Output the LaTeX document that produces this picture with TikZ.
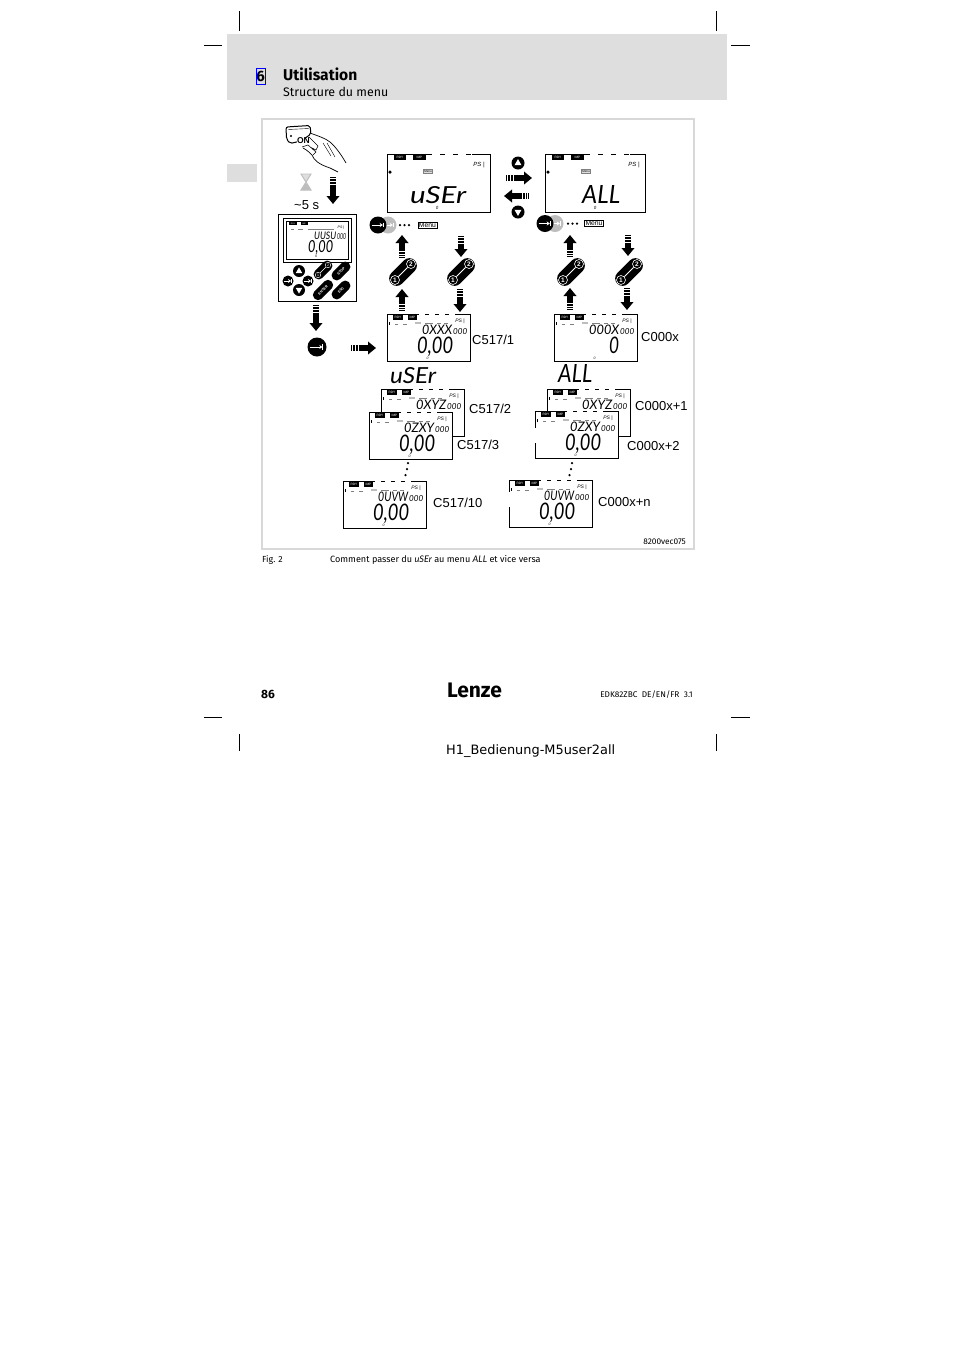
\documentclass[tikz,border=0pt]{standalone}
\usepackage{fontspec}
\usepackage{graphicx}
\usetikzlibrary{arrows.meta}
\setmainfont{Fira Sans}
\newfontfamily\labelfont{Liberation Sans}
\newfontfamily\lcdfont{Lato}
\newfontfamily\printfont{DejaVu Sans}
\definecolor{pagegrey}{HTML}{DEDEDE}
\definecolor{framegrey}{HTML}{D8D8D8}
\definecolor{keygrey}{HTML}{BDBDBD}
\newcommand{\segtext}[3]{\resizebox{#1pt}{#2pt}{\lcdfont\itshape #3}}
\tikzset{
  plain/.style={inner sep=0pt},
  lcdframe/.style={draw,fill=white,line width=0.9pt,inner sep=0pt,anchor=north west},
  lcdtag/.style={fill=black,text=white,inner sep=0pt,minimum height=5pt,font=\labelfont\fontsize{3.2}{3.2}\selectfont},
  menutag/.style={draw,fill=white,line width=0.5pt,inner sep=0.8pt,font=\labelfont\fontsize{#1}{#1}\selectfont},
  tinytext/.style={inner sep=0pt,font=\labelfont\itshape\fontsize{#1}{#1}\selectfont},
  seg/.style={inner sep=0pt,anchor=base west},
  codelabel/.style={inner sep=0pt,anchor=west,font=\labelfont\fontsize{13}{13}\selectfont},
  blockarrow/.style={line width=5.5pt,dash pattern=on 1pt off 1pt on 1.5pt off 1pt on 2pt off 1pt on 60pt,
    -{Triangle[length=8pt,width=12.5pt]}},
  keycap/.style={fill=black,rounded corners=#1,inner sep=0pt},
  keynum/.style={circle,fill=black,draw=white,line width=0.6pt,text=white,inner sep=0pt,minimum size=9pt,
    font=\labelfont\bfseries\fontsize{6.5}{6.5}\selectfont},
  padcap/.style={keycap=4.5pt,rotate=45,minimum width=22pt,minimum height=10pt,text=white,
    font=\labelfont\bfseries\fontsize{3.5}{3.5}\selectfont},
  stopdot/.style={circle,fill=black,inner sep=0pt,minimum size=2.5pt}
}
% small display, args: name, x, y, upper text, main text (empty when covered), main x, main width
\newcommand{\lcdpanel}[7]{
  \node[lcdframe,minimum width=83pt,minimum height=47pt] (#1) at (#2,#3) {};
  \draw[white,line width=1pt,dash pattern=on 6pt off 4pt] (#2+32,#3) -- (#2+70,#3);
  \begin{scope}[shift={(#2,#3)}]
    \node[lcdtag,minimum width=10pt] (#1rdy) at (11,3) {RDY};
    \node[lcdtag,minimum width=9pt] (#1imp) at (25.5,3) {IMP};
    \node[tinytext=5] (#1ps) at (73,7) {PS |};
    \node[fill=black,inner sep=0pt,minimum width=1.5pt,minimum height=3pt] (#1mark) at (2.5,9) {};
    \node[fill=keygrey,inner sep=0pt,minimum width=6pt,minimum height=2.5pt] (#1icon) at (31,9) {};
    \draw[gray,line width=0.4pt] (8,10) -- (11,10) (16,10) -- (20,10) (38,9) -- (46,9) (50,9) -- (54,9) (57,9) -- (61,9);
    \node[seg] (#1upper) at (35,20.5) {\segtext{30}{9.5}{#4}};
    \node[seg] (#1sub) at (66,20.5) {\segtext{14}{6}{000}};
    \if\relax\detokenize{#5}\relax\else
      \node[seg] (#1main) at (#6,39) {\segtext{#7}{16.5}{#5}};
      \node[tinytext=3.5] (#1zero) at (40.5,44.5) {0};
    \fi
  \end{scope}
}
% large display, args: name, x, y, width, main text, main x, main width, main height
\newcommand{\lcdlarge}[8]{
  \node[lcdframe,minimum width=#4pt,minimum height=58pt] (#1) at (#2,#3) {};
  \begin{scope}[shift={(#2,#3)}]
    \draw[white,line width=1pt,dash pattern=on 8pt off 5pt] (45,0) -- (85,0);
    \node[lcdtag,minimum width=12pt] (#1rdy) at (13,3.5) {RDY};
    \node[lcdtag,minimum width=13pt] (#1imp) at (32.5,3.5) {IMP};
    \node[tinytext=6] (#1ps) at (#4-11,10.5) {PS |};
    \node[circle,fill=black,inner sep=0pt,minimum size=3.5pt] (#1mark) at (3,18) {};
    \node[menutag=3,draw=gray,fill=pagegrey] (#1menu) at (41,17.5) {Menu};
    \node[seg] (#1main) at (#6,49) {\segtext{#7}{#8}{#5}};
    \node[tinytext=4.5] (#1zero) at (50,54) {0};
  \end{scope}
}
% oblique key with 1 and 2
\newcommand{\keypair}[3]{
  \node[keycap=7.5pt,rotate=45,minimum width=33pt,minimum height=15pt] (#1) at (#2,#3) {};
  \node[keynum] (#1a) at ([shift={(-8,8)}]#1.center) {1};
  \node[keynum] (#1b) at ([shift={(8,-8)}]#1.center) {2};
  \draw[white,line width=0.8pt] (#1a) -- (#1b);
}
% black round key with arrow to a bar
\newcommand{\tabkey}[5]{
  \node[circle,fill=#4,inner sep=0pt,minimum size=#5pt] (#1) at (#2,#3) {};
  \draw[white,line width=1pt,-{Stealth[length=3pt,width=4pt]}] ([xshift=-0.38*#5pt]#1.center) -- ([xshift=0.28*#5pt]#1.center);
  \draw[white,line width=1pt] ([xshift=0.3*#5pt,yshift=0.14*#5pt]#1.center) -- ([xshift=0.3*#5pt,yshift=-0.14*#5pt]#1.center);
}
% round key with a triangle, arg 4 = 1 up / -1 down
\newcommand{\trikey}[5]{
  \node[circle,fill=black,inner sep=0pt,minimum size=#5pt] (#1) at (#2,#3) {};
  \fill[white] ([shift={(-0.27*#5,0.17*#4*#5)}]#1.center) -- ([shift={(0.27*#5,0.17*#4*#5)}]#1.center) -- ([shift={(0,-0.3*#4*#5)}]#1.center) -- cycle;
}
\newcommand{\menurow}[6]{
  \tabkey{#1grey}{#3}{#2}{keygrey}{17}
  \tabkey{#1}{#4}{#2}{black}{17}
  \node[stopdot] (#1dota) at (#5,#2) {};
  \node[stopdot] (#1dotb) at (#5+4.5,#2) {};
  \node[stopdot] (#1dotc) at (#5+9,#2) {};
  \node[menutag=6.8] (#1menu) at (#6,#2) {Menu};
}
\begin{document}
\begin{tikzpicture}[x=1pt,y=-1pt]
  \useasboundingbox (0,0) rectangle (954,1350);
  % page furniture
  \fill[pagegrey] (227,34) rectangle (727,100);
  \fill[pagegrey] (227,164) rectangle (257,182);
  \draw[line width=0.8pt] (239,11) -- (239,31) (716,11) -- (716,31) (204,45) -- (222,45) (731,45) -- (750,45);
  \draw[line width=0.8pt] (204,717) -- (222,717) (731,717) -- (750,717) (239,734) -- (239,751) (716,734) -- (716,751);
  \node[draw=blue,line width=1pt,inner sep=0pt,minimum width=9pt,minimum height=16pt,font=\bfseries\fontsize{15}{15}\selectfont] (chapnum) at (260.7,76.5) {6};
  \node[plain,anchor=base west,font=\bfseries\fontsize{15.6}{15}\selectfont] (chaptitle) at (283,80) {Utilisation};
  \node[plain,anchor=base west,font=\fontsize{12.4}{12}\selectfont] (chapsub) at (283,96) {Structure du menu};
  \draw[framegrey,line width=2pt] (262,119) rectangle (694,549);

  % switch and hand
  \draw[line width=1pt,rounded corners=2pt] (286,127) -- (310,125.5) -- (311,134) -- (301,141) -- (290,143.5) -- (286.5,139) -- cycle;
  \draw[line width=0.4pt] (288,129.5) -- (309,128.5);
  \fill (291,136) circle (1.2);
  \draw[line width=0.7pt] (310,133) .. controls (318,136) and (325,138) .. (330,142) .. controls (336,147) and (342,156) .. (346,163);
  \draw[line width=0.7pt] (303,148) .. controls (307,150) and (310,153) .. (312,155) .. controls (314,160) and (318,164) .. (330,168) -- (338,172);
  \draw[line width=0.6pt] (309,137) -- (318,146) -- (316,150) -- (310,147) (302,147) -- (308,145) -- (316,152) -- (313,155);
  \draw[line width=0.4pt] (323,143) -- (331,156) (327,143) -- (335,157);
  \node[plain,fill=white,font=\labelfont\bfseries\fontsize{8.5}{8.5}\selectfont] (onlabel) at (303.5,141) {ON};

  % hourglass
  \fill[pagegrey] (302,175) -- (310,175) -- (306,182) -- cycle;
  \fill[keygrey] (301,190) -- (311,190) -- (306,183) -- cycle;
  \draw[keygrey,line width=1pt] (301,174) -- (311,174) -- (306,182) -- (311,190) -- (301,190) -- (306,182) -- cycle;
  \node[plain,anchor=base west,font=\labelfont\fontsize{13}{13}\selectfont] (delay) at (294,209) {\textasciitilde5 s};

  % keypad
  \node[lcdframe,minimum width=78pt,minimum height=87pt] (keypad) at (278,214) {};
  \node[lcdframe,minimum width=68pt,minimum height=44pt] (padscreen) at (283,218) {};
  \node[lcdframe,line width=0.5pt,minimum width=62pt,minimum height=38pt] (padlcd) at (286,221) {};
  \node[lcdtag,minimum width=8pt,minimum height=3pt,font=\labelfont\fontsize{2}{2}\selectfont] (padrdy) at (293,223.5) {RDY};
  \node[lcdtag,minimum width=7pt,minimum height=3pt,font=\labelfont\fontsize{2}{2}\selectfont] (padimp) at (304,223.5) {IMP};
  \node[tinytext=3.5] (padps) at (341,228) {PS |};
  \draw[gray,line width=0.4pt] (291,229) -- (294,229) (298,229) -- (303,229) (308,229) -- (334,229);
  \node[seg] (padupper) at (314,239) {\segtext{22}{7.5}{UUSU}};
  \node[seg] (padsub) at (337,239) {\segtext{9}{6}{000}};
  \node[seg] (padmain) at (308,252) {\segtext{25}{12}{0,00}};
  \node[tinytext=3.5] (padzero) at (316,256) {0};
  \trikey{padup}{299}{271}{1}{12}
  \trikey{paddown}{299}{290}{-1}{12}
  \tabkey{padleft}{288}{281}{black}{11}
  \tabkey{padright}{308}{281}{black}{11}
  \node[padcap] (padpair) at (323,270) {};
  \node[keynum,minimum size=5.5pt,line width=0.4pt,font=\labelfont\fontsize{3.5}{3.5}\selectfont] (padpaira) at ([shift={(-5,5)}]padpair.center) {1};
  \node[keynum,minimum size=5.5pt,line width=0.4pt,font=\labelfont\fontsize{3.5}{3.5}\selectfont] (padpairb) at ([shift={(5,-5)}]padpair.center) {2};
  \draw[white,line width=0.5pt] (padpaira) -- (padpairb);
  \node[padcap] (padstop) at (341,271) {STOP};
  \node[padcap,minimum width=24pt] (padenter) at (323,290) {ENTER};
  \node[padcap] (padesc) at (341,290) {ESC};
  \tabkey{startkey}{317}{347}{black}{19}

  % displays
  \lcdlarge{userlcd}{387}{154}{103}{uSEr}{23}{56}{17}
  \lcdlarge{alllcd}{545}{154}{100}{ALL}{37}{38}{18}
  \lcdpanel{usera}{387}{314}{0XXX}{0,00}{30}{36}
  \lcdpanel{allx}{554}{314}{000X}{0}{55}{10}
  \lcdpanel{userb}{381}{389}{0XYZ}{}{30}{36}
  \lcdpanel{userc}{369}{412}{0ZXY}{0,00}{30}{36}
  \lcdpanel{userd}{343}{481}{0UVW}{0,00}{30}{36}
  \lcdpanel{ally}{547}{389}{0XYZ}{}{30}{36}
  \lcdpanel{allz}{535}{411}{0ZXY}{0,00}{30}{36}
  \lcdpanel{alln}{509}{480}{0UVW}{0,00}{30}{36}
  % gaps in the left edges
  \draw[white,line width=1.5pt] (535,428) -- (535,443) (509,492) -- (509,507);
  \node[seg] (usertitle) at (390,383) {\segtext{46}{16}{uSEr}};
  \node[seg] (alltitle) at (558,382) {\segtext{34}{18}{ALL}};

  % code labels
  \node[codelabel] (labela) at (472,340) {C517/1};
  \node[codelabel] (labelb) at (469,409) {C517/2};
  \node[codelabel] (labelc) at (457,445) {C517/3};
  \node[codelabel] (labeld) at (433,503) {C517/10};
  \node[codelabel] (labele) at (641,337) {C000x};
  \node[codelabel] (labelf) at (635,406) {C000x+1};
  \node[codelabel] (labelg) at (627,446) {C000x+2};
  \node[codelabel] (labelh) at (598,502) {C000x+n};

  % keys between the displays
  \menurow{usermenu}{225}{388}{378}{400}{427.5}
  \menurow{allmenu}{223.5}{555}{545}{568}{594}
  \keypair{keya}{403}{272}
  \keypair{keyb}{461}{272}
  \keypair{keyc}{571}{272}
  \keypair{keyd}{629}{272}
  \trikey{allup}{518}{163}{1}{13}
  \trikey{alldown}{518}{212}{-1}{13}

  % arrows
  \coordinate (a1) at (333,177);   \coordinate (a2) at (333,204);
  \coordinate (b1) at (316,305);   \coordinate (b2) at (316,331);
  \coordinate (c1) at (351,348);   \coordinate (c2) at (376,348);
  \coordinate (d1) at (402,258);   \coordinate (d2) at (402,235);
  \coordinate (e1) at (461,236);   \coordinate (e2) at (461,257);
  \coordinate (f1) at (402,311);   \coordinate (f2) at (402,289);
  \coordinate (g1) at (460,289);   \coordinate (g2) at (460,312);
  \coordinate (h1) at (570,257);   \coordinate (h2) at (570,235);
  \coordinate (i1) at (628,235);   \coordinate (i2) at (628,256);
  \coordinate (j1) at (570,310);   \coordinate (j2) at (570,288);
  \coordinate (k1) at (627,288);   \coordinate (k2) at (627,310);
  \coordinate (l1) at (506,178);   \coordinate (l2) at (532,178);
  \coordinate (m1) at (529,196);   \coordinate (m2) at (504,196);
  \foreach \from/\to in {a1/a2,b1/b2,c1/c2,d1/d2,e1/e2,f1/f2,g1/g2,h1/h2,i1/i2,j1/j2,k1/k2,l1/l2,m1/m2}
    \draw[blockarrow] (\from) -- (\to);

  % dots between displays
  \node[stopdot] (dota) at (408,463) {};
  \node[stopdot] (dotb) at (407,469) {};
  \node[stopdot] (dotc) at (405.5,475) {};
  \node[stopdot] (dotd) at (572,463) {};
  \node[stopdot] (dote) at (571,469) {};
  \node[stopdot] (dotf) at (569.5,475) {};

  % captions
  \node[plain,anchor=base east,font=\fontsize{8.3}{8}\selectfont] (figcode) at (686,544) {8200vec075};
  \node[plain,anchor=base west,font=\fontsize{8.8}{9}\selectfont] (fignum) at (262,562) {Fig. 2};
  \node[plain,anchor=base west,font=\fontsize{9.1}{9}\selectfont] (figtext) at (330,562) {Comment passer du {\lcdfont\itshape uSEr} au menu {\lcdfont\itshape ALL} et vice versa};
  \node[plain,anchor=base west,font=\bfseries\fontsize{12}{12}\selectfont] (pagenum) at (261,698) {86};
  \node[plain,font=\fontsize{21}{21}\selectfont\bfseries] (logo) at (474.5,690) {Lenze};
  \node[plain,anchor=base east,font=\fontsize{8.3}{8}\selectfont] (docref) at (693,697) {EDK82ZBC\ \ DE/EN/FR\ \ 3.1};
  \node[plain,anchor=base west,font=\printfont\fontsize{12.9}{13}\selectfont] (printline) at (446,754) {H1\_Bedienung-M5user2all};
\end{tikzpicture}
\end{document}
